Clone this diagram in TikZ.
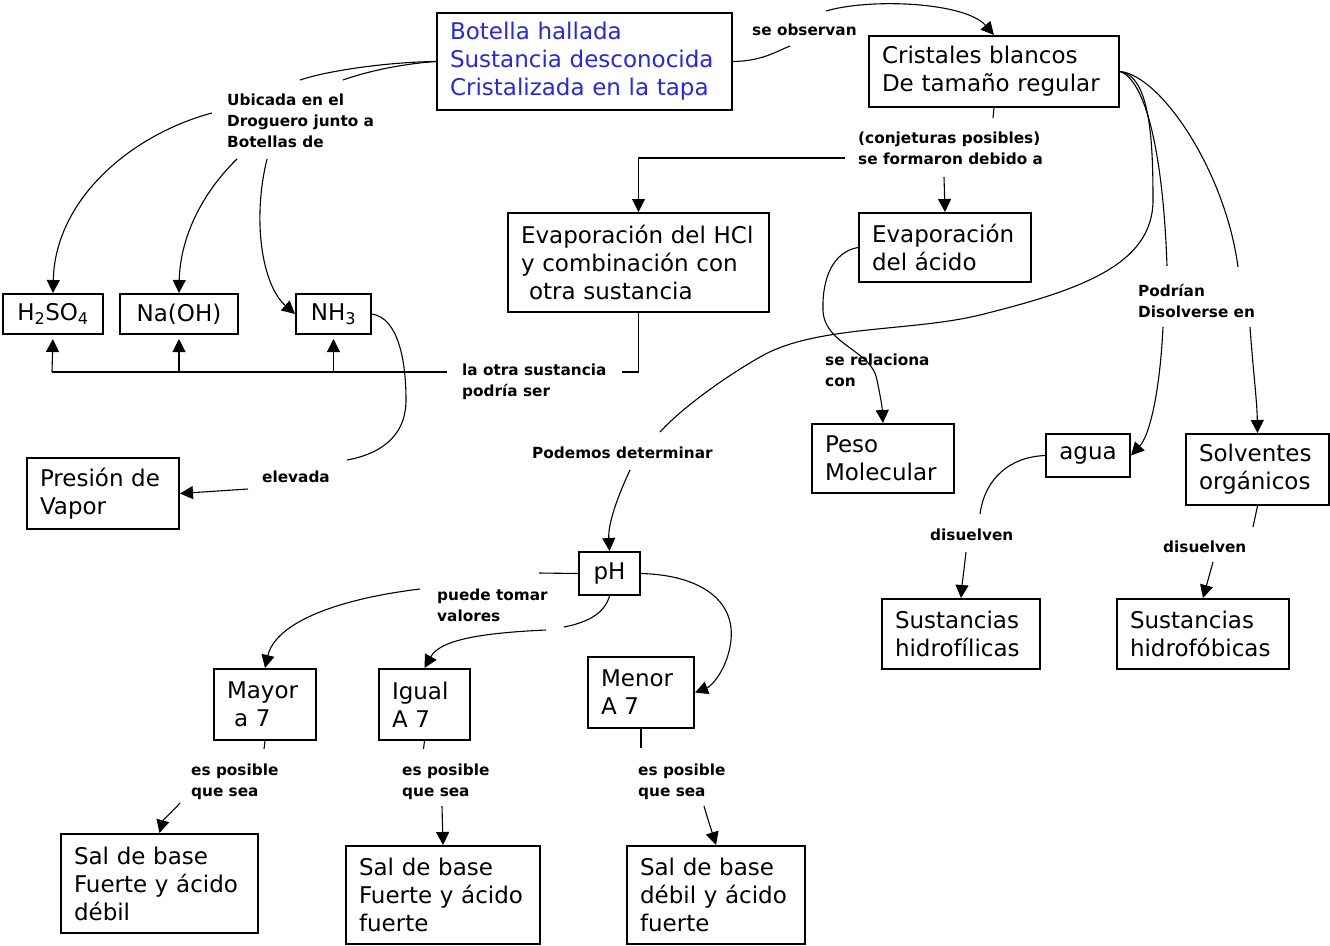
\documentclass[tikz,border=0pt]{standalone}
\usepackage{fontspec}
\setmainfont{DejaVu Sans}
\usetikzlibrary{arrows.meta}
\definecolor{tblue}{RGB}{40,40,225}
\begin{document}
\begin{tikzpicture}[x=1pt,y=-1pt,
  box/.style={draw, line width=2pt, anchor=north west, inner xsep=13pt, inner ysep=0pt, align=left, font=\fontsize{23}{28}\selectfont},
  sbox/.style={draw, line width=2pt, anchor=north west, inner xsep=4pt, inner ysep=0pt, font=\fontsize{23}{28}\selectfont},
  lbl/.style={inner sep=0pt, anchor=north west, align=left, font=\bfseries\fontsize{15.3}{21}\selectfont},
  con/.style={line width=1.1pt},
  arr/.style={con, -{Triangle[length=13pt,width=13pt]}}]
\fill[white] (0,0) rectangle (1330,945);
\useasboundingbox (0,0) rectangle (1330,945);

% boxes
\node[box, minimum width=295pt, minimum height=97pt, text width=269pt, text=tblue] (bot) at (436,12) {\mbox{Botella hallada}\\\mbox{Sustancia desconocida}\\\mbox{Cristalizada en la tapa}};
\node[box, minimum width=250pt, minimum height=71pt, text width=224pt] (cri) at (868,35) {\mbox{Cristales blancos}\\\mbox{De tamaño regular}};
\node[box, minimum width=261pt, minimum height=99pt, text width=235pt] (hcl) at (507,212) {\mbox{Evaporación del HCl}\\\mbox{y combinación con}\\\mbox{\hspace{8pt}otra sustancia}};
\node[box, minimum width=172pt, minimum height=69pt, text width=146pt] (eva) at (858,212) {\mbox{Evaporación}\\\mbox{del ácido}};
\node[sbox, minimum width=100pt, minimum height=40pt] (h2) at (2,293) {H\textsubscript{2}SO\textsubscript{4}};
\node[sbox, minimum width=118pt, minimum height=40pt] (naoh) at (119,293) {Na(OH)};
\node[sbox, minimum width=75pt, minimum height=40pt] (nh3) at (295,293) {NH\textsubscript{3}};
\node[box, minimum width=152pt, minimum height=71pt, text width=126pt] (pres) at (26,457) {\mbox{Presión de}\\\mbox{Vapor}};
\node[box, minimum width=142pt, minimum height=69pt, text width=116pt] (peso) at (811,423) {\mbox{Peso}\\\mbox{Molecular}};
\node[sbox, minimum width=84pt, minimum height=43pt] (agua) at (1045,433) {agua};
\node[box, minimum width=143pt, minimum height=71pt, text width=117pt] (solv) at (1185,433) {\mbox{Solventes}\\\mbox{orgánicos}};
\node[box, minimum width=158pt, minimum height=70pt, text width=132pt] (hidf) at (881,598) {\mbox{Sustancias}\\\mbox{hidrofílicas}};
\node[box, minimum width=172pt, minimum height=70pt, text width=146pt] (hidb) at (1116,598) {\mbox{Sustancias}\\\mbox{hidrofóbicas}};
\node[sbox, minimum width=61pt, minimum height=43pt] (ph) at (578,551) {pH};
\node[box, minimum width=102pt, minimum height=71pt, text width=76pt] (mayor) at (213,668) {\mbox{Mayor}\\\mbox{\hspace{7pt}a 7}};
\node[box, minimum width=91pt, minimum height=71pt, text width=65pt] (igual) at (378,668) {\mbox{Igual}\\\mbox{A 7}};
\node[box, minimum width=106pt, minimum height=71pt, text width=80pt] (menor) at (587,656) {\mbox{Menor}\\\mbox{A 7}};
\node[box, minimum width=197pt, minimum height=99pt, text width=171pt] (sal1) at (60,833) {\mbox{Sal de base}\\\mbox{Fuerte y ácido}\\\mbox{débil}};
\node[box, minimum width=194pt, minimum height=98pt, text width=168pt] (sal2) at (345,845) {\mbox{Sal de base}\\\mbox{Fuerte y ácido}\\\mbox{fuerte}};
\node[box, minimum width=178pt, minimum height=98pt, text width=152pt] (sal3) at (626,845) {\mbox{Sal de base}\\\mbox{débil y ácido}\\\mbox{fuerte}};

% labels
\node[lbl] (lobs) at (752,23.6) {se observan};
\node[lbl] (lubi) at (227,93.6) {Ubicada en el\\Droguero junto a\\Botellas de};
\node[lbl] (lconj) at (858,131.6) {(conjeturas posibles)\\se formaron debido a};
\node[lbl] (lotra) at (462,363.6) {la otra sustancia\\podría ser};
\node[lbl] (lelev) at (262,470.6) {elevada};
\node[lbl] (lrel) at (825,353.6) {se relaciona\\con};
\node[lbl] (lpod) at (532,446.6) {Podemos determinar};
\node[lbl] (lpodr) at (1138,283.6) {Podrían\\Disolverse en};
\node[lbl] (ldis1) at (930,528.6) {disuelven};
\node[lbl] (ldis2) at (1163,540.6) {disuelven};
\node[lbl] (lpue) at (437,588.6) {puede tomar\\valores};
\node[lbl] (les1) at (191,763.6) {es posible\\que sea};
\node[lbl] (les2) at (402,763.6) {es posible\\que sea};
\node[lbl] (les3) at (638,763.6) {es posible\\que sea};

% free ends
\coordinate (o1) at (790,46);
\coordinate (o2) at (826,11);
\coordinate (u1) at (300,80);
\coordinate (u2) at (343,80);
\coordinate (u3) at (212,113);
\coordinate (u4) at (237,159);
\coordinate (u5) at (267,159);
\coordinate (k1) at (993,118);
\coordinate (k2) at (944,177);
\coordinate (k3) at (845,158);
\coordinate (t1) at (622,372);
\coordinate (t2) at (447,372);
\coordinate (t3) at (52,372);
\coordinate (e1) at (347,460);
\coordinate (e2) at (248,489);
\coordinate (p1) at (660,432);
\coordinate (q1) at (1167,266);
\coordinate (q2) at (1238,267);
\coordinate (q3) at (1163,327);
\coordinate (q4) at (1250,327);
\coordinate (d1) at (980,514);
\coordinate (d2) at (966,552);
\coordinate (d3) at (1253,527);
\coordinate (d4) at (1213,562);
\coordinate (p2) at (630,470);
\coordinate (m0) at (539,573);
\coordinate (m1) at (420,589);
\coordinate (m2) at (564,627);
\coordinate (m3) at (546,630);
\coordinate (s1) at (264,749);
\coordinate (s2) at (180,803);
\coordinate (s3) at (423.5,749);
\coordinate (s4) at (442,806);
\coordinate (s5) at (641,748);
\coordinate (s6) at (704,806);

% connectors
\draw[con] (bot.east) .. controls (762,61) and (775,52) .. (o1);
\draw[arr] (o2) .. controls (870,-2) and (965,2) .. (cri.north);
\draw[con] (bot.west) .. controls (390,62) and (330,70) .. (u1);
\draw[con] (bot.west) .. controls (400,64) and (365,72) .. (u2);
\draw[arr] (u3) .. controls (130,135) and (55,200) .. (h2.north);
\draw[arr] (u4) .. controls (200,195) and (180,240) .. (naoh.north);
\draw[arr] (u5) .. controls (252,220) and (262,285) .. (nh3.west);
\draw[con] (cri.south) -- (k1);
\draw[arr] (k2) -- (eva.north);
\draw[arr] (k3) -| (hcl.north);
\draw[con] (hcl.south) |- (t1);
\draw[con] (t2) -- (t3);
\draw[arr, shorten >=4pt] (t3) -- (h2.south);
\draw[arr, shorten >=4pt] (naoh.south |- t3) -- (naoh.south);
\draw[arr, shorten >=4pt] (nh3.south |- t3) -- (nh3.south);
\draw[con] (nh3.east) .. controls (398,318) and (406,360) .. (406,400) .. controls (406,440) and (375,455) .. (e1);
\draw[arr] (e2) -- (pres.east);
\draw[arr] (eva.west) .. controls (832,252) and (822,280) .. (823,310) .. controls (824,345) and (872,350) .. (877,380) .. controls (880,395) and (882,405) .. (peso.north);
\draw[con] (cri.east) .. controls (1150,76) and (1153,140) .. (1153,200) .. controls (1153,265) and (1080,290) .. (980,315) .. controls (910,332) and (815,325) .. (760,357) .. controls (720,380) and (680,410) .. (p1);
\draw[con] (cri.east) .. controls (1145,80) and (1163,150) .. (q1);
\draw[con] (cri.east) .. controls (1160,75) and (1225,170) .. (q2);
\draw[arr] (q3) .. controls (1160,390) and (1150,435) .. (agua.east);
\draw[arr] (q4) .. controls (1253,370) and (1257,400) .. (solv.north);
\draw[con] (agua.west) .. controls (1010,457) and (985,478) .. (d1);
\draw[arr] (d2) .. controls (964,570) and (962,585) .. (hidf.north);
\draw[con] (solv.south) -- (d3);
\draw[arr] (d4) -- (hidb.north);
\draw[arr] (p2) .. controls (616,500) and (608,525) .. (ph.north);
\draw[con] (ph.west) -- (m0);
\draw[arr] (m1) .. controls (330,600) and (275,625) .. (mayor.north);
\draw[con] (ph.south) .. controls (605,612) and (590,622) .. (m2);
\draw[arr] (m3) .. controls (480,633) and (440,640) .. (igual.north);
\draw[arr] (ph.east) .. controls (700,575) and (735,600) .. (731,640) .. controls (728,668) and (712,686) .. (menor.east);
\draw[con] (mayor.south) -- (s1);
\draw[arr] (s2) .. controls (172,812) and (163,820) .. (sal1.north);
\draw[con] (igual.south) -- (s3);
\draw[arr] (s4) -- (sal2.north);
\draw[con] (menor.south) -- (s5);
\draw[arr] (s6) .. controls (708,820) and (712,832) .. (sal3.north);
\end{tikzpicture}
\end{document}
